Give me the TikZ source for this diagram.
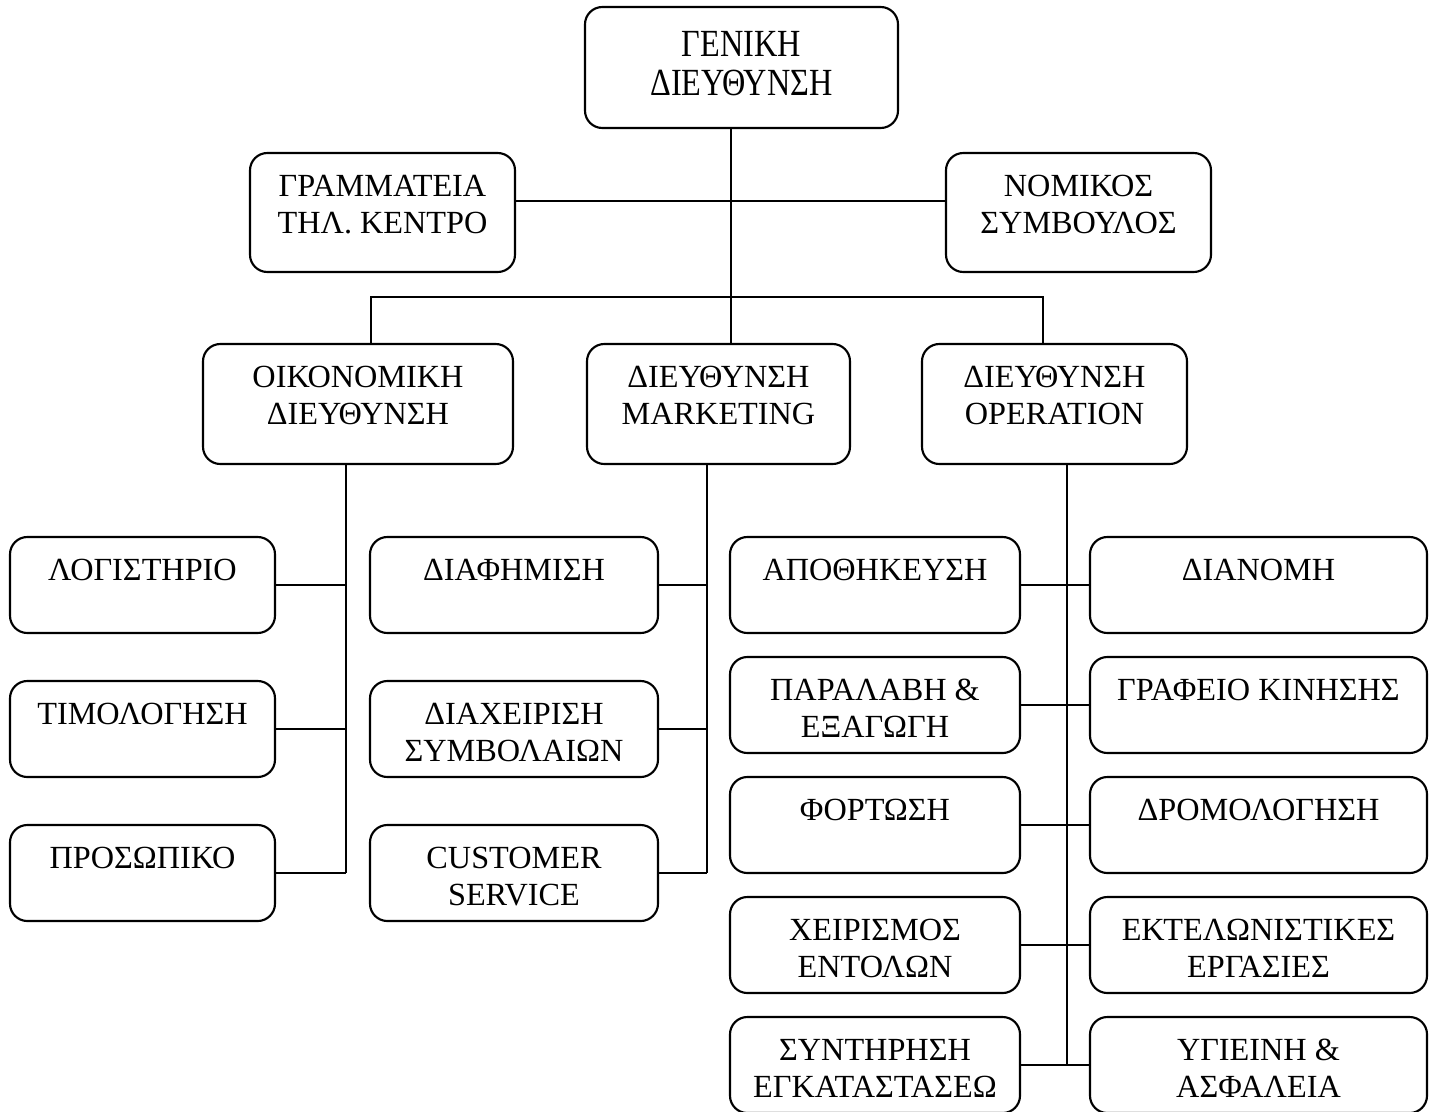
\documentclass[tikz,border=0pt]{standalone}
\usepackage{fontspec}
\setmainfont{Liberation Serif}
\usepackage{graphicx}
\tikzset{
  boxst/.style={draw, line width=1.6pt, rounded corners=13pt, inner sep=0pt, fill=white},
  txt/.style={anchor=base, inner sep=0pt, font=\fontsize{24.2pt}{27.4pt}\selectfont},
  conn/.style={line width=1.6pt}
}
\newcommand\orgbox[6]{%
  \node[boxst, minimum width={(#4-#2)*0.75pt}, minimum height={(#5-#3)*0.75pt}] (#1) at ({(#2+#4)/2},{(#3+#5)/2}) {};
  \node[txt] (#1-t) at ([yshift=-33.75pt]#1.north) {\parbox[t]{320pt}{\centering #6}};
}
\begin{document}
\begin{tikzpicture}[x=0.75pt, y=-0.75pt]
\clip (0,0) rectangle (1432,1111);
\fill[white] (0,0) rectangle (1432,1111);
% connectors first
\coordinate (jl) at (371,297);
\coordinate (jr) at (1043,297);
% boxes
\node[boxst, minimum width={313*0.75pt}, minimum height={121*0.75pt}] (gen) at (741.5,67.5) {};
\node[txt] (gen-t) at ([yshift=-38.25pt]gen.north) {\scalebox{1}[1.19]{\parbox[t]{320pt}{\centering\fontsize{24.2pt}{24.2pt}\selectfont ΓΕΝΙΚΗ\\ΔΙΕΥΘΥΝΣΗ}}};
\orgbox{gram}{250}{153}{515}{272}{ΓΡΑΜΜΑΤΕΙΑ\\ΤΗΛ. ΚΕΝΤΡΟ}
\orgbox{nom}{946}{153}{1211}{272}{ΝΟΜΙΚΟΣ\\ΣΥΜΒΟΥΛΟΣ}
\orgbox{oik}{203}{344}{513}{464}{ΟΙΚΟΝΟΜΙΚΗ\\ΔΙΕΥΘΥΝΣΗ}
\orgbox{mkt}{587}{344}{850}{464}{ΔΙΕΥΘΥΝΣΗ\\MARKETING}
\orgbox{ops}{922}{344}{1187}{464}{ΔΙΕΥΘΥΝΣΗ\\OPERATION}
\orgbox{log}{10}{537}{275}{633}{ΛΟΓΙΣΤΗΡΙΟ}
\orgbox{tim}{10}{681}{275}{777}{ΤΙΜΟΛΟΓΗΣΗ}
\orgbox{pro}{10}{825}{275}{921}{ΠΡΟΣΩΠΙΚΟ}
\orgbox{dia}{370}{537}{658}{633}{ΔΙΑΦΗΜΙΣΗ}
\orgbox{dxs}{370}{681}{658}{777}{ΔΙΑΧΕΙΡΙΣΗ\\ΣΥΜΒΟΛΑΙΩΝ}
\orgbox{cus}{370}{825}{658}{921}{CUSTOMER\\SERVICE}
\orgbox{apo}{730}{537}{1020}{633}{ΑΠΟΘΗΚΕΥΣΗ}
\orgbox{par}{730}{657}{1020}{753}{ΠΑΡΑΛΑΒΗ \&\\ΕΞΑΓΩΓΗ}
\orgbox{fort}{730}{777}{1020}{873}{ΦΟΡΤΩΣΗ}
\orgbox{xei}{730}{897}{1020}{993}{ΧΕΙΡΙΣΜΟΣ\\ΕΝΤΟΛΩΝ}
\orgbox{syn}{730}{1017}{1020}{1113}{ΣΥΝΤΗΡΗΣΗ\\ΕΓΚΑΤΑΣΤΑΣΕΩ}
\orgbox{dian}{1090}{537}{1427}{633}{ΔΙΑΝΟΜΗ}
\orgbox{graf}{1090}{657}{1427}{753}{ΓΡΑΦΕΙΟ ΚΙΝΗΣΗΣ}
\orgbox{drom}{1090}{777}{1427}{873}{ΔΡΟΜΟΛΟΓΗΣΗ}
\orgbox{ekt}{1090}{897}{1427}{993}{ΕΚΤΕΛΩΝΙΣΤΙΚΕΣ\\ΕΡΓΑΣΙΕΣ}
\orgbox{ygi}{1090}{1017}{1427}{1113}{ΥΓΙΕΙΝΗ \&\\ΑΣΦΑΛΕΙΑ}
% connectors
\draw[conn] (731,0 |- gen.south) -- (731,0 |- mkt.north);
\draw[conn] (gram.east |- 0,201) -- (nom.west |- 0,201);
\draw[conn] (371,0 |- oik.north) -- (jl) -- (jr) -- (1043,0 |- ops.north);
% finance branch
\coordinate (fl) at (346,873);
\draw[conn] (346,0 |- oik.south) -- (fl);
\draw[conn] (log.east) -- (log.east -| fl);
\draw[conn] (tim.east) -- (tim.east -| fl);
\draw[conn] (pro.east) -- (fl);
% marketing branch
\coordinate (ml) at (707,873);
\draw[conn] (707,0 |- mkt.south) -- (ml);
\draw[conn] (dia.east) -- (dia.east -| ml);
\draw[conn] (dxs.east) -- (dxs.east -| ml);
\draw[conn] (cus.east) -- (ml);
% operation branch
\coordinate (ol) at (1067,1065);
\draw[conn] (1067,0 |- ops.south) -- (ol);
\draw[conn] (apo.east) -- (dian.west);
\draw[conn] (par.east) -- (graf.west);
\draw[conn] (fort.east) -- (drom.west);
\draw[conn] (xei.east) -- (ekt.west);
\draw[conn] (syn.east) -- (ygi.west);
\end{tikzpicture}
\end{document}
